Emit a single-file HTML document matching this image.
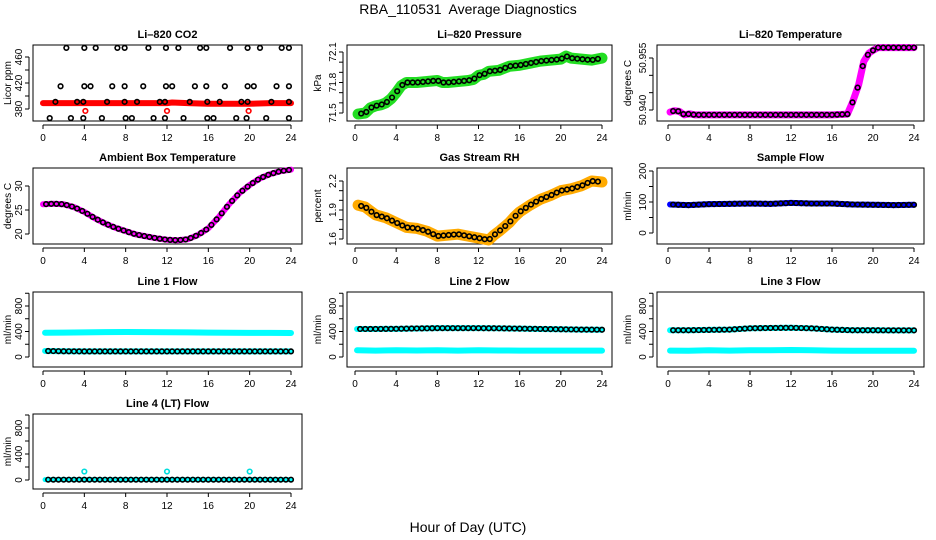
<!DOCTYPE html>
<html><head><meta charset="utf-8"><style>
body{margin:0;background:#fff;}
svg{display:block;font-family:"Liberation Sans",sans-serif;}
</style></head><body>
<svg id="chart" width="936" height="540" viewBox="0 0 936 540" xmlns="http://www.w3.org/2000/svg">
<rect width="936" height="540" fill="#fff"/>
<text x="468" y="14" font-size="14" text-anchor="middle">RBA_110531&#160; Average Diagnostics</text>
<text x="468" y="532" font-size="14" text-anchor="middle">Hour of Day (UTC)</text>
<g id="panels"></g>
</svg>
<script>
// ---------- data ----------
const hourTicks = [0,4,8,12,16,20,24];

const co2BandHours = [0,2,4,6,8,10,12,12.5,14,16,18,20,22,24];
const co2BandValues = [389,389,389,389,389,389,389,390,389,388,388,388,389,389];
const co2CircleHours = [2.26,4.0,5.1,7.2,7.9,10.2,11.9,13.1,15.2,15.8,18.1,19.8,21.0,23.1,23.8,
 1.7,4.0,4.6,6.7,7.9,9.7,11.9,12.5,14.7,15.8,17.6,19.8,20.4,22.6,23.8,
 1.2,3.3,3.9,6.2,7.9,9.1,11.3,11.8,14.2,15.9,17.1,19.2,19.8,22.1,23.8,
 0.65,2.7,3.9,5.7,8.0,8.6,10.7,11.8,13.6,15.9,16.5,18.7,19.7,21.6,23.8];
const co2CircleValues = [474,474,474,474,474,474,474,474,474,474,474,474,474,474,474,
 415,415,415,415,415,415,415,415,415,415,415,415,415,415,415,
 391,391,391,391,391,391,391,391,391,391,391,391,391,391,391,
 366,366,366,366,366,366,366,366,366,366,366,366,366,366,366];
const co2RedHours = [4.1,12.0,19.9];
const co2RedValues = [377,377,377];

const presHours = [0.3,1,1.5,2,2.5,3,3.5,4,4.5,5,6,7,8,8.5,9,10,11,11.5,12,12.5,13,14,15,16,17,18,19,20,20.5,21,22,23,24];
const presValues = [71.49,71.5,71.55,71.57,71.58,71.6,71.64,71.70,71.77,71.80,71.80,71.81,71.82,71.80,71.80,71.81,71.82,71.83,71.87,71.88,71.91,71.92,71.96,71.97,71.99,72.01,72.02,72.03,72.06,72.04,72.03,72.02,72.04];

const tempHours = [0.2,0.6,1.1,1.6,2.1,2.6,4,8,12,16,17.5,18,18.6,19.1,19.6,20,20.5,22,24];
const tempValues = [50.9394,50.9398,50.9396,50.9386,50.9389,50.9386,50.9386,50.9386,50.9386,50.9386,50.9388,50.9422,50.9473,50.9540,50.9564,50.9572,50.9580,50.9580,50.9580];

const ambHours = [0,1,2,3,4,5,6,7,8,9,10,11,12,13,14,15,16,17,18,19,20,21,22,23,24];
const ambValues = [26.2,26.3,26.2,25.6,24.6,23.3,22.2,21.3,20.6,19.9,19.5,19.1,18.8,18.7,18.9,19.8,21.2,23.5,26.2,28.5,30.2,31.6,32.5,33.1,33.4];

const rhHours = [0.3,1,1.5,2,3,4,5,6,7,8,9,10,11,12,12.5,13,13.5,14,15,15.5,16,17,18,19,20,21,22,23,24];
const rhValues = [1.95,1.93,1.89,1.85,1.82,1.77,1.72,1.71,1.68,1.63,1.64,1.65,1.63,1.61,1.60,1.59,1.64,1.68,1.77,1.83,1.88,1.95,2.01,2.05,2.10,2.12,2.15,2.20,2.19];

const flowHours = [0.2,2,4,6,8,10,12,14,16,18,20,22,24];
const sampleValues = [92,90,93,94,95,94,97,95,95,92,91,90,91];
const line1High = [380,383,387,390,392,390,388,386,382,380,378,378,376];
const line1Low = [95,90,88,88,88,88,88,88,88,88,88,88,88];
const line2High = [440,440,442,448,452,452,452,450,445,440,435,430,428];
const line2Low = [105,100,105,102,105,100,105,102,100,100,100,100,100];
const line3High = [420,420,425,430,450,455,458,450,430,420,420,418,418];
const line3Low = [100,98,105,100,105,105,110,105,100,98,98,98,98];
const line4Values = [5,5,5,5,5,5,5,5,5,5,5,5,5];
const line4CyanHours = [4,12,20];
const line4CyanValues = [130,130,130];

// ---------- drawing ----------
const NS = 'http://www.w3.org/2000/svg';
const root = document.getElementById('panels');
function mk(tag, attrs, parent){ const e=document.createElementNS(NS,tag); for(const k in attrs) e.setAttribute(k,attrs[k]); (parent||root).appendChild(e); return e; }

const cols = [{l:33,r:302,x0:43,x24:291,yl:11},{l:347,r:612,x0:355,x24:602,yl:321},{l:657,r:924,x0:668,x24:914,yl:631}];
const rows = [{t:45,b:121},{t:168,b:244},{t:292,b:367},{t:414,b:489}];

function panel(name, col, row, title, ylab, a, b, yticks, ylabels){
  const c=cols[col], r=rows[row];
  const g=mk('g',{});
  
  
  const sx=t=>c.x0+(c.x24-c.x0)*t/24;
  const sy=v=>a[1]+(b[1]-a[1])*(v-a[0])/(b[0]-a[0]);
  const box=mk('rect',{x:c.l,y:r.t,width:c.r-c.l,height:r.b-r.t,fill:'none',stroke:'#000','stroke-width':1},g);
  
  
  const tt=mk('text',{x:(c.l+c.r)/2,y:r.t-7,'font-size':11,'font-weight':'bold','text-anchor':'middle'},g);
  tt.textContent=title;
  
  
  const yt=mk('text',{transform:`translate(${c.yl},${(r.t+r.b)/2}) rotate(-90)`,'font-size':10,'text-anchor':'middle'},g);
  yt.textContent=ylab;
  
  
  const xa=mk('g',{},g);
  
  
  const xb=r.b+4;
  mk('line',{x1:sx(0),x2:sx(24),y1:xb,y2:xb,stroke:'#000'},xa);
  hourTicks.forEach(h=>{
    mk('line',{x1:sx(h),x2:sx(h),y1:xb,y2:xb+4,stroke:'#000'},xa);
    const l=mk('text',{x:sx(h),y:xb+16,'font-size':10,'text-anchor':'middle'},xa);
    l.textContent=h;
    
    
  });
  const ya=mk('g',{},g);
  
  
  const xl=c.l-4;
  mk('line',{x1:xl,x2:xl,y1:sy(yticks[0]),y2:sy(yticks[yticks.length-1]),stroke:'#000'},ya);
  yticks.forEach(v=>mk('line',{x1:xl-4,x2:xl,y1:sy(v),y2:sy(v),stroke:'#000'},ya));
  ylabels.forEach(([v,s])=>{
    const l=mk('text',{transform:`translate(${xl-7},${sy(v)}) rotate(-90)`,'font-size':10,'text-anchor':'middle'},ya);
    l.textContent=s;
    
    
  });
  return {
    band(hours,vals,color,w,nm){
      const p=mk('polyline',{points:hours.map((h,i)=>sx(h)+','+sy(vals[i])).join(' '),fill:'none',stroke:color,'stroke-width':w,'stroke-linejoin':'round','stroke-linecap':'round'},g);
      
      
    },
    circles(hours,vals,color,nm,step){
      const s=mk('g',{},g);
      
      
      if(step){
        for(let t=hours[0]+0.3;t<=hours[hours.length-1]+0.001;t+=step){
          let i=0; while(i<hours.length-2 && hours[i+1]<t) i++;
          const f=(t-hours[i])/(hours[i+1]-hours[i]);
          const v=vals[i]+(vals[i+1]-vals[i])*Math.max(0,Math.min(1,f));
          mk('circle',{cx:sx(t),cy:sy(v),r:2.3,fill:'none',stroke:color,'stroke-width':1.6},s);
        }
      } else {
        hours.forEach((h,i)=>mk('circle',{cx:sx(h),cy:sy(vals[i]),r:2.3,fill:'none',stroke:color,'stroke-width':1.6},s));
      }
    }
  };
}

let p=panel('co2-panel',0,0,'Li\u2013820 CO2','Licor ppm',[380,109],[460,57],[380,400,420,440,460],[[380,'380'],[420,'420'],[460,'460']]);
p.band(co2BandHours,co2BandValues,'#ff0000',6,'co2-series');
p.circles(co2CircleHours,co2CircleValues,'#000','co2-hourly-points');
p.circles(co2RedHours,co2RedValues,'#ff0000','co2-outliers');

p=panel('pressure-panel',1,0,'Li\u2013820 Pressure','kPa',[71.5,113],[72.1,52],[71.5,71.6,71.7,71.8,71.9,72.0,72.1],[[71.5,'71.5'],[71.8,'71.8'],[72.1,'72.1']]);
p.band(presHours,presValues,'#22dd22',11,'pressure-series');
p.circles(presHours,presValues,'#000','pressure-hourly-points',0.5);

p=panel('li820-temp-panel',2,0,'Li\u2013820 Temperature','degrees C',[50.940,110],[50.955,58],[50.940,50.945,50.950,50.955],[[50.940,'50.940'],[50.955,'50.955']]);
p.band(tempHours,tempValues,'#ff00ff',7,'li820-temp-series');
p.circles(tempHours,tempValues,'#000','li820-temp-hourly-points',0.5);

p=panel('ambient-temp-panel',0,1,'Ambient Box Temperature','degrees C',[20,234],[30,186],[20,25,30],[[20,'20'],[25,'25'],[30,'30']]);
p.band(ambHours,ambValues,'#ff00ff',6,'ambient-temp-series');
p.circles(ambHours,ambValues,'#000','ambient-temp-hourly-points',0.5);

p=panel('rh-panel',1,1,'Gas Stream RH','percent',[1.6,239],[2.2,181],[1.6,1.7,1.8,1.9,2.0,2.1,2.2],[[1.6,'1.6'],[1.9,'1.9'],[2.2,'2.2']]);
p.band(rhHours,rhValues,'#ffaa00',11,'rh-series');
p.circles(rhHours,rhValues,'#000','rh-hourly-points',0.5);

p=panel('sample-flow-panel',2,1,'Sample Flow','ml/min',[0,233],[200,171],[0,50,100,150,200],[[0,'0'],[100,'100'],[200,'200']]);
p.band(flowHours,sampleValues,'#0000ff',6,'sample-flow-series');
p.circles(flowHours,sampleValues,'#000','sample-flow-hourly-points',0.5);

const fticks=[0,200,400,600,800,1000];
const flabels=[[0,'0'],[400,'400'],[800,'800']];
p=panel('line1-flow-panel',0,2,'Line 1 Flow','ml/min',[0,357],[800,306],fticks,flabels);
p.band(flowHours,line1High,'#00ffff',6,'line1-high-series');
p.band(flowHours,line1Low,'#00ffff',6,'line1-low-series');
p.circles(flowHours,line1Low,'#000','line1-hourly-points',0.5);
p=panel('line2-flow-panel',1,2,'Line 2 Flow','ml/min',[0,357],[800,306],fticks,flabels);
p.band(flowHours,line2High,'#00ffff',6,'line2-high-series');
p.band(flowHours,line2Low,'#00ffff',6,'line2-low-series');
p.circles(flowHours,line2High,'#000','line2-hourly-points',0.5);
p=panel('line3-flow-panel',2,2,'Line 3 Flow','ml/min',[0,357],[800,306],fticks,flabels);
p.band(flowHours,line3High,'#00ffff',6,'line3-high-series');
p.band(flowHours,line3Low,'#00ffff',6,'line3-low-series');
p.circles(flowHours,line3High,'#000','line3-hourly-points',0.5);
p=panel('line4-flow-panel',0,3,'Line 4 (LT) Flow','ml/min',[0,480],[800,428],fticks,flabels);
p.band(flowHours,line4Values,'#00ffff',5,'line4-series');
p.circles(flowHours,line4Values,'#000','line4-hourly-points',0.5);
p.circles(line4CyanHours,line4CyanValues,'#00dddd','line4-outliers');
</script>
</body></html>
